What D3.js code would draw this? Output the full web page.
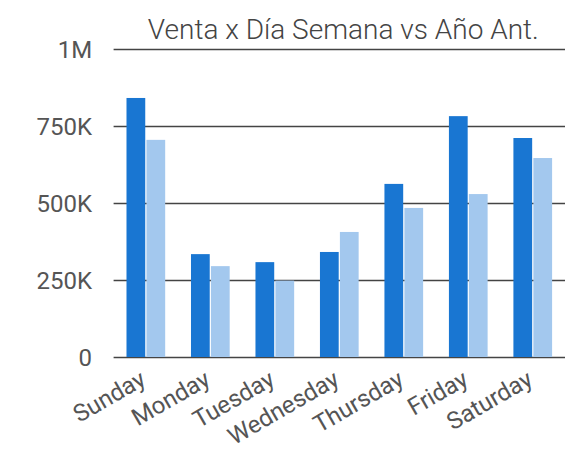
<!DOCTYPE html>
<html>
<head>
<meta charset="utf-8">
<script src="https://cdn.jsdelivr.net/npm/d3@7"></script>
<style>
  body { margin: 0; background: #fff; }
  text { font-family: Roboto, "Noto Sans", sans-serif; }
</style>
</head>
<body>
<script>
// Chart data
const days = ["Sunday", "Monday", "Tuesday", "Wednesday", "Thursday", "Friday", "Saturday"];
const series = ["Actual", "Año Ant."];
const actual = [841000, 334000, 308000, 341000, 562000, 782000, 711000];
const prevYear = [705000, 295000, 248000, 406000, 484000, 529000, 646000];
const yTicks = [0, 250000, 500000, 750000, 1000000];
const yTickLabels = ["0", "250K", "500K", "750K", "1M"];
const colors = ["#1976d2", "#a3c8ee"];

const canvWidth = 565, canvHeight = 453;
const svg = d3.select("body").append("svg")
    .attr("width", canvWidth)
    .attr("height", canvHeight);

const margin = {top: 49, right: 0, bottom: 96, left: 113.6};
const width = canvWidth - margin.left - margin.right;
const height = canvHeight - margin.top - margin.bottom;

const chart = svg.append("g")
    .attr("transform", "translate(" + margin.left + "," + margin.top + ")");

// Scales
const xScale = d3.scaleBand()
    .domain(days)
    .range([0, width])
    .paddingInner(0.4)
    .paddingOuter(0.2);
const xSub = d3.scaleBand()
    .domain(series)
    .range([0, xScale.bandwidth()])
    .paddingInner(0.06);
const yScale = d3.scaleLinear()
    .domain([0, 1000000])
    .range([height, 0]);

// Gridlines
chart.append("g")
    .selectAll("line")
    .data(yTicks)
    .enter().append("line")
    .attr("x1", 0)
    .attr("x2", width)
    .attr("y1", d => Math.round(yScale(d)) + 0.5)
    .attr("y2", d => Math.round(yScale(d)) + 0.5)
    .attr("stroke", "#444")
    .attr("stroke-width", 1.3);

// y tick labels
chart.append("g")
    .selectAll("text")
    .data(yTicks)
    .enter().append("text")
    .attr("x", -21.5)
    .attr("y", d => yScale(d))
    .attr("dy", "0.36em")
    .attr("text-anchor", "end")
    .attr("font-size", "24px")
    .attr("fill", "#555")
    .text((d, i) => yTickLabels[i]);

// Bars
const rows = days.map((d, i) => ({day: d, values: [actual[i], prevYear[i]]}));
const groups = chart.selectAll(".day")
    .data(rows)
    .enter().append("g")
    .attr("class", "day")
    .attr("transform", d => "translate(" + xScale(d.day) + ",0)");
groups.selectAll("rect")
    .data(d => d.values.map((v, j) => ({key: series[j], value: v, j: j})))
    .enter().append("rect")
    .attr("x", d => xSub(d.key))
    .attr("width", xSub.bandwidth())
    .attr("y", d => yScale(d.value))
    .attr("height", d => height - yScale(d.value))
    .attr("fill", d => colors[d.j]);

// x labels, rotated
chart.append("g")
    .selectAll("text")
    .data(days)
    .enter().append("text")
    .attr("transform", d => "translate(" + (xScale(d) + xScale.bandwidth() / 2 - 7) + "," + (height + 12) + ") rotate(-30)")
    .attr("dy", "0.71em")
    .attr("text-anchor", "end")
    .attr("font-size", "24px")
    .attr("fill", "#555")
    .text(d => d);

// Title
svg.append("text")
    .attr("x", margin.left + width / 2 + 4)
    .attr("y", 39)
    .attr("text-anchor", "middle")
    .attr("font-size", "28px")
    .attr("font-weight", 300)
    .attr("fill", "#444")
    .text("Venta x Día Semana vs Año Ant.");
</script>
</body>
</html>
